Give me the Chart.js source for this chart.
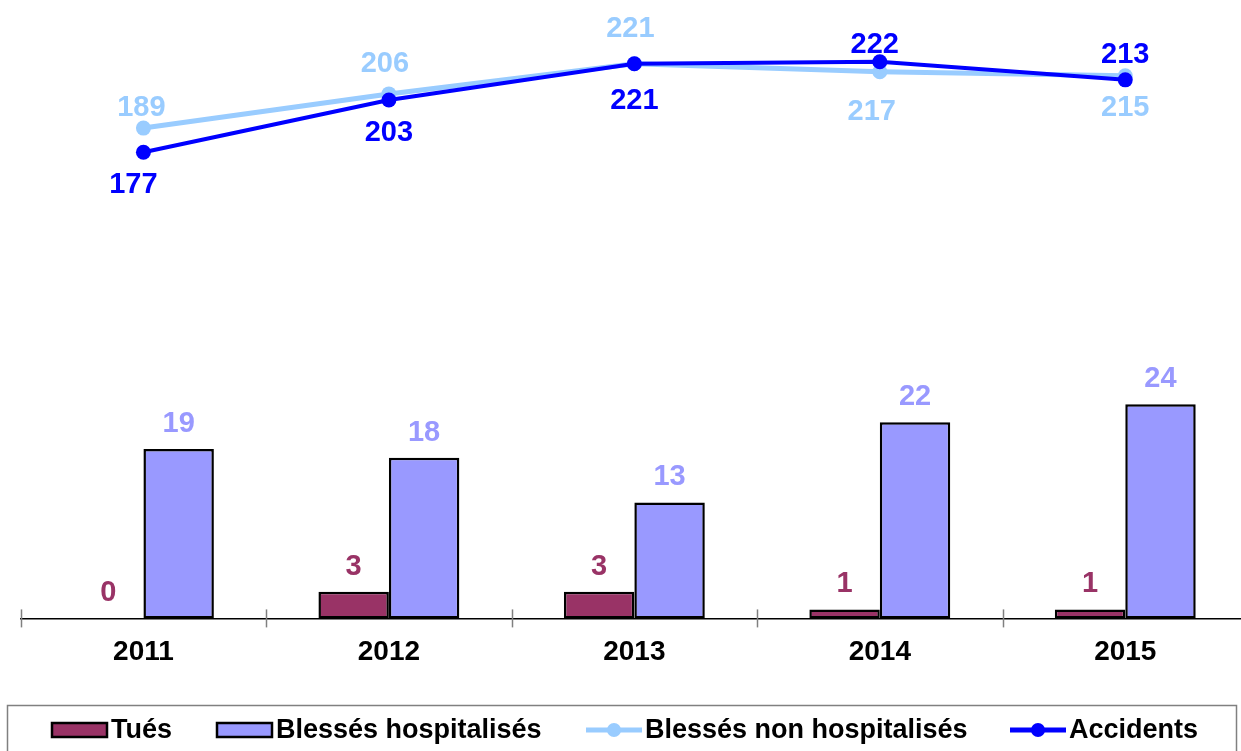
<!DOCTYPE html>
<html>
<head>
<meta charset="utf-8">
<script src="https://cdn.jsdelivr.net/npm/chart.js@4.4.1/dist/chart.umd.min.js"></script>
<style>
  html, body { margin: 0; padding: 0; background: #fff; overflow: hidden; }
  #wrap { width: 1241px; height: 751px; overflow: hidden; position: relative; }
  canvas { display: block; }
</style>
</head>
<body>
<div id="wrap"><canvas id="c" width="1260" height="751"></canvas></div>
<script>
const categories = ['2011', '2012', '2013', '2014', '2015'];
const tues = [0, 3, 3, 1, 1];
const blessesHosp = [19, 18, 13, 22, 24];
const blessesNonHosp = [189, 206, 221, 217, 215];
const accidents = [177, 203, 221, 222, 213];

const FONT = "'Liberation Sans', Arial, sans-serif";
const C_TUES = '#993366', C_HOSP = '#9999FF', C_NONHOSP = '#99CCFF', C_ACC = '#0000FF';

// label placement (style): offsets of the label centre from the point centre
const labelPlacement = {
  'Blessés non hospitalisés': { dx: [-2, -4, -4, -8, 0], dy: [-22, -32, -37, 38, 30] },
  'Accidents': { dx: [-10, 0, 0, -5, 0], dy: [30, 31, 35, -19, -27] }
};

const labelsPlugin = {
  id: 'valueLabels',
  afterDatasetsDraw(chart) {
    const ctx = chart.ctx;
    const size = 29;
    ctx.save();
    ctx.font = 'bold ' + size + 'px ' + FONT;
    ctx.textAlign = 'center';
    ctx.textBaseline = 'alphabetic';
    chart.data.datasets.forEach((ds, di) => {
      const meta = chart.getDatasetMeta(di);
      meta.data.forEach((el, i) => {
        const v = ds.data[i];
        let cx = el.x, cy;
        if (ds.type === 'bar') {
          cy = el.y - 27.5;
        } else {
          const p = labelPlacement[ds.label];
          cx = el.x + p.dx[i];
          cy = el.y + p.dy[i];
        }
        ctx.fillStyle = ds.labelColor;
        ctx.fillText(String(v), cx, cy + size * 0.358);
      });
    });
    ctx.restore();
  }
};

const axisTicksPlugin = {
  id: 'axisTicks',
  afterDraw(chart) {
    const xs = chart.scales.x;
    const ctx = chart.ctx;
    const y0 = chart.chartArea.bottom;
    const w = (xs.right - xs.left) / categories.length;
    ctx.save();
    ctx.strokeStyle = '#808080';
    ctx.lineWidth = 1.5;
    for (let i = 0; i <= categories.length; i++) {
      const x = Math.round(xs.left + i * w) + 0.5;
      ctx.beginPath();
      ctx.moveTo(x, y0 - 9);
      ctx.lineTo(x, y0 + 9);
      ctx.stroke();
    }
    ctx.restore();
  }
};

const legendPlugin = {
  id: 'boxLegend',
  afterDraw(chart) {
    const ctx = chart.ctx;
    ctx.save();
    ctx.strokeStyle = '#808080';
    ctx.lineWidth = 1.5;
    ctx.strokeRect(7.5, 705.5, 1229, 80);
    const items = [
      { text: 'Tués', type: 'bar', color: C_TUES, x: 52 },
      { text: 'Blessés hospitalisés', type: 'bar', color: C_HOSP, x: 217 },
      { text: 'Blessés non hospitalisés', type: 'line', color: C_NONHOSP, x: 586 },
      { text: 'Accidents', type: 'line', color: C_ACC, x: 1010 }
    ];
    const cy = 730;
    ctx.font = 'bold 27px ' + FONT;
    ctx.textBaseline = 'middle';
    ctx.textAlign = 'left';
    items.forEach(it => {
      if (it.type === 'bar') {
        ctx.fillStyle = it.color;
        ctx.fillRect(it.x, cy - 7, 55, 14);
        ctx.strokeStyle = '#000';
        ctx.lineWidth = 2.5;
        ctx.strokeRect(it.x, cy - 7, 55, 14);
      } else {
        ctx.strokeStyle = it.color;
        ctx.lineWidth = 5;
        ctx.beginPath();
        ctx.moveTo(it.x, cy);
        ctx.lineTo(it.x + 56, cy);
        ctx.stroke();
        ctx.fillStyle = it.color;
        ctx.beginPath();
        ctx.arc(it.x + 28, cy, 7, 0, Math.PI * 2);
        ctx.fill();
      }
      ctx.fillStyle = '#000';
      ctx.fillText(it.text, it.x + 59, cy + 1);
    });
    ctx.restore();
  }
};

new Chart(document.getElementById('c'), {
  data: {
    labels: categories,
    datasets: [
      {
        type: 'bar', label: 'Tués', data: tues, yAxisID: 'y',
        backgroundColor: C_TUES, borderColor: '#000', borderWidth: 2.5,
        borderSkipped: false, barPercentage: 1, categoryPercentage: 0.574,
        order: 2, labelColor: C_TUES
      },
      {
        type: 'bar', label: 'Blessés hospitalisés', data: blessesHosp, yAxisID: 'y',
        backgroundColor: C_HOSP, borderColor: '#000', borderWidth: 2.5,
        borderSkipped: false, barPercentage: 1, categoryPercentage: 0.574,
        order: 3, labelColor: C_HOSP
      },
      {
        type: 'line', label: 'Blessés non hospitalisés', data: blessesNonHosp, yAxisID: 'y2',
        borderColor: C_NONHOSP, backgroundColor: C_NONHOSP, borderWidth: 5,
        pointRadius: 7.5, pointBackgroundColor: C_NONHOSP, pointBorderWidth: 0,
        tension: 0, order: 1, labelColor: C_NONHOSP
      },
      {
        type: 'line', label: 'Accidents', data: accidents, yAxisID: 'y2',
        borderColor: C_ACC, backgroundColor: C_ACC, borderWidth: 4,
        pointRadius: 7.5, pointBackgroundColor: C_ACC, pointBorderWidth: 0,
        tension: 0, order: 0, labelColor: C_ACC
      }
    ]
  },
  options: {
    responsive: false,
    animation: false,
    layout: { padding: { left: 20.7, right: 12, top: 0, bottom: 73 } },
    plugins: { legend: { display: false }, tooltip: { enabled: false } },
    scales: {
      x: {
        offset: true,
        grid: { display: false },
        border: { display: true, color: '#000', width: 1.5 },
        ticks: { color: '#000', font: { family: FONT, size: 28, weight: 'bold' }, padding: 9 }
      },
      y: { display: false, min: 0, max: 68.5 },
      y2: { display: false, min: -55, max: 249 }
    }
  },
  plugins: [labelsPlugin, axisTicksPlugin, legendPlugin]
});
</script>
</body>
</html>
